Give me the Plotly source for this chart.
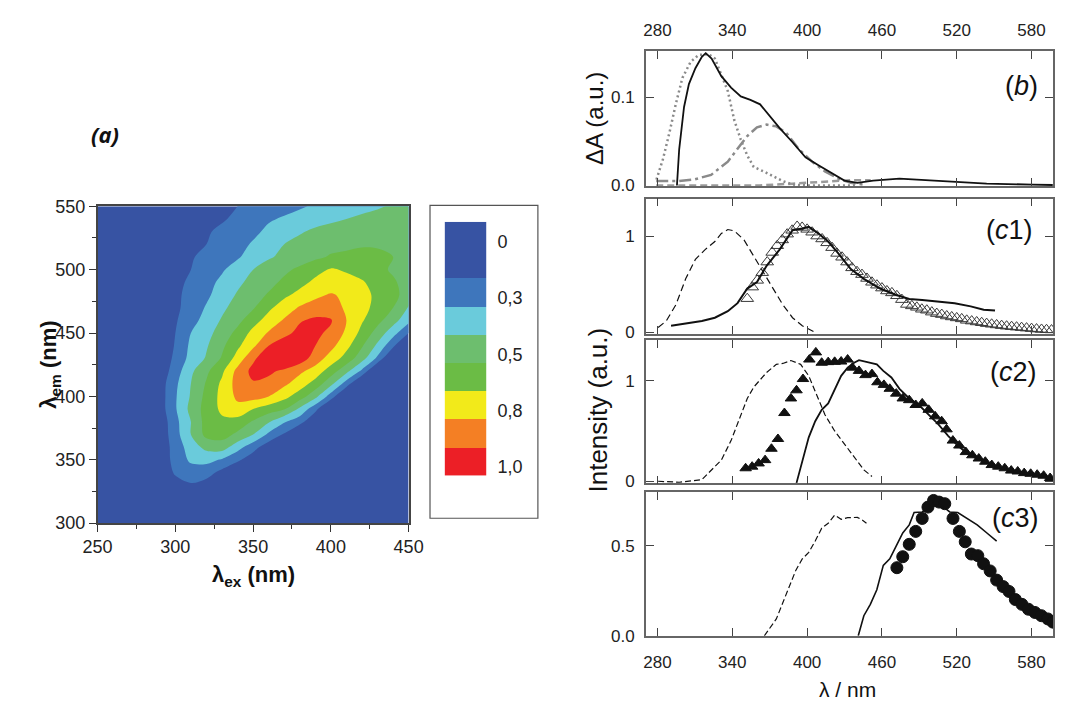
import plotly.graph_objects as go

W, H = 1068, 709

# ---------------- (a) excitation-emission map ----------------
EX = [250, 260, 270, 280, 290, 300, 310, 320, 330, 340, 350,
      360, 370, 380, 390, 400, 410, 420, 430, 440, 450]
EM = [550, 540, 530, 520, 510, 500, 490, 480, 470, 460, 450, 440, 430,
      420, 410, 400, 390, 380, 370, 360, 350, 340, 330, 320, 310, 300]
# normalised intensity, one row per emission wavelength (top row = 550 nm)
INTENSITY = [
    [0.02, 0.02, 0.04, 0.06, 0.08, 0.11, 0.13, 0.15, 0.18, 0.20, 0.22, 0.25, 0.27, 0.29, 0.31, 0.33, 0.35, 0.37, 0.39, 0.41, 0.43],
    [0.02, 0.02, 0.02, 0.04, 0.07, 0.10, 0.13, 0.16, 0.19, 0.22, 0.26, 0.29, 0.31, 0.33, 0.36, 0.38, 0.40, 0.42, 0.43, 0.44, 0.44],
    [0.02, 0.02, 0.04, 0.07, 0.10, 0.13, 0.16, 0.19, 0.22, 0.25, 0.28, 0.32, 0.35, 0.39, 0.42, 0.44, 0.45, 0.46, 0.47, 0.47, 0.46],
    [0.02, 0.02, 0.03, 0.07, 0.10, 0.14, 0.17, 0.20, 0.24, 0.27, 0.31, 0.35, 0.40, 0.43, 0.45, 0.47, 0.48, 0.49, 0.49, 0.48, 0.47],
    [0.02, 0.03, 0.06, 0.09, 0.13, 0.16, 0.19, 0.23, 0.26, 0.29, 0.34, 0.39, 0.42, 0.45, 0.48, 0.51, 0.52, 0.53, 0.52, 0.50, 0.48],
    [0.02, 0.02, 0.04, 0.08, 0.12, 0.16, 0.20, 0.25, 0.29, 0.34, 0.40, 0.44, 0.48, 0.52, 0.57, 0.61, 0.59, 0.56, 0.52, 0.49, 0.46],
    [0.02, 0.02, 0.03, 0.08, 0.12, 0.17, 0.22, 0.27, 0.32, 0.38, 0.43, 0.47, 0.52, 0.57, 0.62, 0.64, 0.63, 0.61, 0.56, 0.51, 0.47],
    [0.02, 0.02, 0.02, 0.07, 0.13, 0.18, 0.23, 0.28, 0.35, 0.41, 0.46, 0.51, 0.58, 0.63, 0.68, 0.71, 0.68, 0.63, 0.58, 0.52, 0.47],
    [0.02, 0.02, 0.02, 0.06, 0.12, 0.18, 0.24, 0.31, 0.38, 0.44, 0.49, 0.58, 0.65, 0.71, 0.74, 0.73, 0.69, 0.63, 0.57, 0.50, 0.39],
    [0.02, 0.02, 0.02, 0.05, 0.12, 0.19, 0.26, 0.34, 0.41, 0.47, 0.56, 0.64, 0.71, 0.79, 0.82, 0.81, 0.70, 0.61, 0.53, 0.44, 0.33],
    [0.02, 0.02, 0.02, 0.02, 0.10, 0.20, 0.30, 0.37, 0.44, 0.53, 0.63, 0.71, 0.77, 0.83, 0.82, 0.78, 0.68, 0.57, 0.46, 0.34, 0.20],
    [0.02, 0.02, 0.02, 0.02, 0.10, 0.21, 0.32, 0.39, 0.48, 0.58, 0.68, 0.80, 0.86, 0.88, 0.80, 0.73, 0.63, 0.51, 0.38, 0.22, 0.05],
    [0.02, 0.02, 0.02, 0.02, 0.10, 0.23, 0.33, 0.41, 0.51, 0.64, 0.78, 0.87, 0.92, 0.86, 0.75, 0.66, 0.56, 0.44, 0.28, 0.05, 0.02],
    [0.02, 0.02, 0.02, 0.02, 0.13, 0.25, 0.38, 0.48, 0.58, 0.73, 0.83, 0.82, 0.78, 0.72, 0.66, 0.55, 0.43, 0.28, 0.05, 0.02, 0.02],
    [0.02, 0.02, 0.02, 0.03, 0.15, 0.28, 0.40, 0.51, 0.62, 0.74, 0.79, 0.77, 0.72, 0.65, 0.56, 0.43, 0.25, 0.05, 0.02, 0.02, 0.02],
    [0.02, 0.02, 0.02, 0.03, 0.15, 0.29, 0.41, 0.53, 0.63, 0.72, 0.74, 0.70, 0.63, 0.55, 0.43, 0.25, 0.05, 0.02, 0.02, 0.02, 0.02],
    [0.02, 0.02, 0.02, 0.03, 0.15, 0.29, 0.43, 0.54, 0.62, 0.67, 0.60, 0.55, 0.51, 0.38, 0.23, 0.05, 0.02, 0.02, 0.02, 0.02, 0.02],
    [0.02, 0.02, 0.02, 0.03, 0.13, 0.27, 0.40, 0.54, 0.58, 0.56, 0.49, 0.41, 0.31, 0.24, 0.10, 0.02, 0.02, 0.02, 0.02, 0.02, 0.02],
    [0.02, 0.02, 0.02, 0.03, 0.13, 0.26, 0.40, 0.53, 0.54, 0.48, 0.40, 0.28, 0.19, 0.05, 0.02, 0.02, 0.02, 0.02, 0.02, 0.02, 0.02],
    [0.02, 0.02, 0.02, 0.03, 0.13, 0.24, 0.35, 0.43, 0.45, 0.34, 0.24, 0.14, 0.05, 0.02, 0.02, 0.02, 0.02, 0.02, 0.02, 0.02, 0.02],
    [0.02, 0.02, 0.02, 0.04, 0.14, 0.23, 0.32, 0.33, 0.29, 0.22, 0.14, 0.06, 0.02, 0.02, 0.02, 0.02, 0.02, 0.02, 0.02, 0.02, 0.02],
    [0.02, 0.02, 0.02, 0.04, 0.14, 0.21, 0.25, 0.24, 0.17, 0.10, 0.04, 0.02, 0.02, 0.02, 0.02, 0.02, 0.02, 0.02, 0.02, 0.02, 0.02],
    [0.02, 0.02, 0.02, 0.03, 0.10, 0.17, 0.19, 0.16, 0.11, 0.06, 0.03, 0.02, 0.02, 0.02, 0.02, 0.02, 0.02, 0.02, 0.02, 0.02, 0.02],
    [0.02, 0.02, 0.02, 0.02, 0.06, 0.11, 0.12, 0.10, 0.07, 0.04, 0.02, 0.02, 0.02, 0.02, 0.02, 0.02, 0.02, 0.02, 0.02, 0.02, 0.02],
    [0.02, 0.02, 0.02, 0.02, 0.03, 0.05, 0.06, 0.05, 0.04, 0.02, 0.02, 0.02, 0.02, 0.02, 0.02, 0.02, 0.02, 0.02, 0.02, 0.02, 0.02],
    [0.02, 0.02, 0.02, 0.02, 0.02, 0.02, 0.02, 0.02, 0.02, 0.02, 0.02, 0.02, 0.02, 0.02, 0.02, 0.02, 0.02, 0.02, 0.02, 0.02, 0.02],
]
BAND_COLORS = ["#3753a3", "#3e76bc", "#6acbdb", "#6dbe6e", "#6bbc45",
               "#f2ea1a", "#f47f24", "#ec1f26"]
# key: the lowest band spans two cells
KEY_BANDS = [0, 0, 1, 2, 3, 4, 5, 6, 7]
KEY_TICKS = ["0", "0,3", "0,5", "0,8", "1,0"]

# ---------------- (b) transient absorption ----------------
B_SUM_X = [295.6, 297.4, 301.3, 305.2, 310.4, 315.6, 318.7, 323.4, 331.2, 339.0, 346.8, 354.5, 362.3, 370.1,
           378.0, 388.3, 398.7, 409.1, 419.5, 429.9, 440.3, 453.0, 474.0, 492.2, 518.0, 544.0, 580.6, 597.0]
B_SUM_Y = [0.0, 0.041, 0.089, 0.115, 0.133, 0.146, 0.150, 0.144, 0.124, 0.111, 0.101, 0.097, 0.092, 0.078,
           0.065, 0.049, 0.032, 0.023, 0.014, 0.0055, 0.003, 0.0055, 0.0077, 0.006, 0.004, 0.002, 0.001, 0.0005]
B_G1_X = [279.2, 284.4, 289.6, 294.8, 300.0, 306.5, 313.0, 320.8, 326.0, 331.2, 336.4, 341.6, 346.8, 352.0,
          357.2, 365.0, 372.8, 380.5, 388.3, 400.0, 420.0, 440.0]
B_G1_Y = [0.0066, 0.030, 0.060, 0.093, 0.122, 0.140, 0.148, 0.149, 0.144, 0.126, 0.107, 0.074, 0.052, 0.034,
          0.021, 0.016, 0.010, 0.005, 0.001, 0.0, 0.0, 0.0]
B_G2_X = [279.0, 297.0, 310.0, 323.0, 336.4, 344.2, 352.0, 359.8, 367.5, 375.3, 383.1, 393.5, 403.9, 414.3,
          424.7, 435.0, 445.4]
B_G2_Y = [0.005, 0.005, 0.007, 0.012, 0.027, 0.041, 0.056, 0.066, 0.069, 0.067, 0.060, 0.041, 0.027, 0.016,
          0.008, 0.003, 0.001]
B_G3_X = [279.0, 330.0, 362.0, 388.0, 414.0, 435.0, 451.0]
B_G3_Y = [0.0, 0.0, 0.0, 0.002, 0.004, 0.006, 0.006]

# ---------------- (c1) ----------------
C1_EXC_X = [280.5, 287.0, 294.8, 302.6, 310.4, 318.2, 326.0, 331.2, 336.4, 341.6, 349.4, 357.2, 365.0, 372.8,
            380.5, 388.3, 396.1, 406.5]
C1_EXC_Y = [0.05, 0.118, 0.287, 0.556, 0.758, 0.859, 0.943, 1.027, 1.068, 1.054, 0.96, 0.79, 0.623, 0.455,
            0.287, 0.152, 0.068, 0.0]
C1_EM_X = [290.9, 302.6, 315.6, 326.0, 336.4, 344.2, 352.0, 359.8, 367.5, 377.9, 388.3, 396.1, 401.3, 409.1,
           416.9, 424.7, 435.0, 445.5, 458.5, 471.5, 481.9, 492.3, 505.3, 518.3, 531.2, 541.6, 550.7]
C1_EM_Y = [0.068, 0.091, 0.118, 0.152, 0.219, 0.303, 0.455, 0.522, 0.691, 0.859, 1.061, 1.078, 1.095, 1.027,
           0.943, 0.825, 0.657, 0.556, 0.455, 0.388, 0.347, 0.337, 0.32, 0.303, 0.27, 0.236, 0.226]
C1_PTS_X = [352, 356, 360, 364, 368, 372, 376, 380, 384, 388, 392, 396, 400, 404, 408, 412, 416, 420, 424, 428,
            432, 436, 440, 444, 448, 452, 456, 460, 464, 468, 472, 476, 480, 484, 488, 492, 496, 500, 504, 508,
            512, 516, 520, 524, 528, 532, 536, 540, 544, 548, 552, 556, 560, 564, 568, 572, 576, 580, 584, 588,
            592, 596]
C1_PTS_Y = [0.35, 0.47, 0.54, 0.62, 0.73, 0.83, 0.90, 0.96, 1.02, 1.06, 1.10, 1.09, 1.07, 1.04, 1.00, 0.97,
            0.93, 0.88, 0.82, 0.78, 0.73, 0.67, 0.63, 0.60, 0.56, 0.52, 0.49, 0.46, 0.43, 0.41, 0.38, 0.34,
            0.29, 0.275, 0.26, 0.24, 0.23, 0.21, 0.195, 0.185, 0.17, 0.16, 0.15, 0.14, 0.125, 0.117, 0.108,
            0.10, 0.091, 0.084, 0.077, 0.07, 0.064, 0.059, 0.054, 0.049, 0.044, 0.039, 0.034, 0.03, 0.027, 0.024]

# ---------------- (c2) ----------------
C2_EXC_X = [280.5, 297.4, 315.6, 323.4, 331.2, 339.0, 346.8, 352.0, 357.2, 367.5, 375.3, 380.5, 387.0, 394.8,
            401.3, 409.1, 414.3, 422.1, 429.9, 437.7, 445.5, 452.0]
C2_EXC_Y = [0.0, -0.01, 0.016, 0.113, 0.21, 0.404, 0.661, 0.823, 0.936, 1.081, 1.162, 1.171, 1.2, 1.162,
            1.048, 0.823, 0.661, 0.5, 0.371, 0.242, 0.113, 0.048]
C2_EM_X = [391.5, 396.1, 401.3, 406.5, 411.7, 416.9, 422.1, 427.3, 432.5, 437.7, 441.6, 448.1, 455.9, 461.1,
           467.6, 474.1, 481.9, 489.7, 497.5, 505.3, 513.1, 520.8, 528.6, 539.0, 549.4, 559.8, 570.2, 580.6,
           591.0, 597.2]
C2_EM_Y = [-0.016, 0.21, 0.436, 0.597, 0.71, 0.774, 0.919, 1.048, 1.129, 1.178, 1.203, 1.187, 1.162, 1.097,
           1.032, 0.919, 0.823, 0.758, 0.661, 0.565, 0.452, 0.355, 0.274, 0.21, 0.161, 0.119, 0.087, 0.065,
           0.042, 0.023]
C2_PTS_X = [350.7, 355.9, 361.1, 366.3, 371.4, 376.6, 381.8, 387.0, 391.5, 396.7, 401.8, 407.0, 411.7, 416.9,
            422.1, 427.3, 432.5, 436.4, 441.6, 446.8, 452.0, 456.4, 461.6, 466.3, 471.5, 476.7, 481.9, 487.1,
            492.3, 497.5, 502.7, 507.9, 511.8, 516.9, 522.1, 527.3, 532.5, 537.7, 542.9, 548.1, 553.3, 558.5,
            563.7, 568.9, 574.1, 579.3, 584.5, 589.7, 594.9]
C2_PTS_Y = [0.129, 0.145, 0.177, 0.21, 0.323, 0.42, 0.678, 0.823, 0.904, 1.016, 1.21, 1.281, 1.178, 1.184,
            1.187, 1.19, 1.21, 1.129, 1.097, 1.055, 1.065, 0.984, 0.958, 0.919, 0.871, 0.823, 0.806, 0.758,
            0.774, 0.71, 0.645, 0.597, 0.516, 0.404, 0.355, 0.29, 0.258, 0.226, 0.194, 0.161, 0.145, 0.129,
            0.106, 0.097, 0.081, 0.074, 0.065, 0.055, 0.032]

# ---------------- (c3) ----------------
C3_EXC_X = [365.7, 370.1, 375.3, 380.5, 385.7, 390.9, 396.1, 401.3, 406.5, 411.7, 416.9, 422.1, 427.3, 432.5,
            440.3, 444.2, 447.6]
C3_EXC_Y = [0.0, 0.04, 0.094, 0.184, 0.274, 0.364, 0.428, 0.464, 0.527, 0.599, 0.626, 0.671, 0.648, 0.657,
            0.659, 0.644, 0.626]
C3_EM_X = [441.0, 445.5, 450.7, 455.9, 461.1, 466.3, 471.5, 476.7, 481.9, 485.8, 492.3, 500.1, 507.9, 514.4,
           520.8, 528.6, 536.4, 544.2, 552.0]
C3_EM_Y = [0.0, 0.112, 0.175, 0.256, 0.392, 0.428, 0.5, 0.572, 0.617, 0.686, 0.689, 0.725, 0.725, 0.689,
           0.686, 0.653, 0.617, 0.572, 0.527]
C3_PTS_X = [472.0, 476.7, 481.9, 487.1, 492.3, 496.9, 501.4, 505.8, 510.4, 517.0, 522.1, 526.8, 531.7, 536.9,
            541.5, 546.8, 552.0, 557.2, 561.9, 567.0, 572.3, 577.5, 582.7, 587.9, 593.1, 597.2]
C3_PTS_Y = [0.379, 0.44, 0.509, 0.581, 0.653, 0.716, 0.753, 0.744, 0.735, 0.653, 0.581, 0.523, 0.455, 0.446,
            0.401, 0.361, 0.31, 0.274, 0.247, 0.202, 0.175, 0.148, 0.13, 0.112, 0.094, 0.076]

LAMBDA_TICKS = [280, 340, 400, 460, 520, 580]


def fx(p):
    return p / W


def fy(p):
    return 1 - p / H


FONT = "Liberation Sans, Arial, sans-serif"
band_scale = [[i / 7, c] for i, c in enumerate(BAND_COLORS)]

fig = go.Figure()

# contour map
fig.add_trace(go.Contour(
    x=EX, y=EM[::-1], z=INTENSITY[::-1],
    contours=dict(start=0.2, end=0.8, size=0.1, coloring="fill", showlines=False),
    colorscale=band_scale, line_width=0, showscale=False, hoverinfo="skip",
    xaxis="x", yaxis="y",
))

# colour key
fig.add_trace(go.Heatmap(
    z=[[b] for b in KEY_BANDS], y=list(range(len(KEY_BANDS))), x=[0],
    colorscale=band_scale, zmin=0, zmax=7, showscale=False, hoverinfo="skip",
    xaxis="x2", yaxis="y2",
))

BLACK = "#111111"
GREY = "#8a8a8a"


def line(x, y, ax, color=BLACK, width=2.0, dash="solid"):
    fig.add_trace(go.Scatter(x=x, y=y, mode="lines", xaxis="x" + ax, yaxis="y" + ax,
                             line=dict(color=color, width=width, dash=dash),
                             showlegend=False, hoverinfo="skip"))


def points(x, y, ax, symbol, size, color=BLACK):
    fig.add_trace(go.Scatter(x=x, y=y, mode="markers", xaxis="x" + ax, yaxis="y" + ax,
                             marker=dict(symbol=symbol, size=size, color=color,
                                         line=dict(color=color, width=1)),
                             showlegend=False, hoverinfo="skip"))


# (b)
line(B_G3_X, B_G3_Y, "3", color="#9a9a9a", width=2.5, dash="7px,4px")
line(B_G1_X, B_G1_Y, "3", color=GREY, width=2.5, dash="2px,3px")
line(B_G2_X, B_G2_Y, "3", color=GREY, width=2.5, dash="12px,4px,3px,4px")
line(B_SUM_X, B_SUM_Y, "3", width=1.8)
# (c1)
line(C1_EXC_X, C1_EXC_Y, "4", width=1.2, dash="7px,4px")
points(C1_PTS_X, C1_PTS_Y, "4", "triangle-up-open", 11, color="#3a3a3a")
line(C1_EM_X, C1_EM_Y, "4", width=2.0)
# (c2)
line(C2_EXC_X, C2_EXC_Y, "5", width=1.2, dash="6px,3px")
points(C2_PTS_X, C2_PTS_Y, "5", "triangle-up", 10)
line(C2_EM_X, C2_EM_Y, "5", width=1.8)
# (c3)
line(C3_EXC_X, C3_EXC_Y, "6", width=1.2, dash="6px,3px")
points(C3_PTS_X, C3_PTS_Y, "6", "circle", 12)
line(C3_EM_X, C3_EM_Y, "6", width=1.6)

tick_font = dict(family=FONT, size=18, color="#222222")
small_font = dict(family=FONT, size=17, color="#222222")

layout = dict(
    width=W, height=H, margin=dict(l=0, r=0, t=0, b=0),
    paper_bgcolor="white", plot_bgcolor="white", showlegend=False,
    xaxis=dict(domain=[fx(85), fx(405)], range=[250, 450], tickvals=[250, 300, 350, 400, 450],
               ticks="outside", ticklen=7, tickcolor="#333", tickwidth=1.2,
               minor=dict(tickvals=[275, 325, 375, 425], ticks="outside", ticklen=4, tickcolor="#333"),
               showline=True, linecolor="#444", linewidth=1.5, mirror=True,
               showgrid=False, zeroline=False, tickfont=tick_font, anchor="y"),
    yaxis=dict(domain=[fy(528), fy(202)], range=[300, 550], tickvals=[300, 350, 400, 450, 500, 550],
               ticks="outside", ticklen=7, tickcolor="#333", tickwidth=1.2,
               minor=dict(tickvals=[325, 375, 425, 475, 525], ticks="outside", ticklen=4, tickcolor="#333"),
               showline=True, linecolor="#444", linewidth=1.5, mirror=True,
               showgrid=False, zeroline=False, tickfont=tick_font, anchor="x"),
    xaxis2=dict(domain=[fx(442), fx(485)], range=[-0.5, 0.5], visible=False, anchor="y2"),
    yaxis2=dict(domain=[fy(479), fy(218)], range=[8.5, -0.5], side="right",
                tickvals=[0.2, 2.2, 4.2, 6.2, 8.2], ticktext=KEY_TICKS, ticks="",
                showgrid=False, zeroline=False, showline=False, tickfont=tick_font,
                ticklabelstandoff=10, anchor="x2"),
)

panels = {
    "3": (42, 181, [-0.0005, 0.1527], [0, 0.1], ["0.0", "0.1"]),
    "4": (194, 333, [-0.013, 1.39], [0, 1], ["0", "1"]),
    "5": (340, 487, [-0.02, 1.40], [0, 1], ["0", "1"]),
    "6": (496, 644, [0, 0.80], [0, 0.5], ["0.0", "0.5"]),
}
for ax, (top, bottom, yr, yt, ytt) in panels.items():
    layout["xaxis" + ax] = dict(
        domain=[fx(649), 1.0], range=[270.6, 597.2], tickvals=LAMBDA_TICKS,
        ticks="inside", ticklen=8, tickcolor="#444", tickwidth=1.2,
        showline=True, linecolor="#666", linewidth=1.5, mirror="ticks",
        showgrid=False, zeroline=False, tickfont=small_font, anchor="y" + ax,
        showticklabels=ax in ("3", "6"), side="top" if ax == "3" else "bottom",
        ticklabelstandoff=6 if ax == "3" else 10,
    )
    layout["yaxis" + ax] = dict(
        domain=[fy(bottom), fy(top)], range=yr, tickvals=yt, ticktext=ytt,
        ticks="inside", ticklen=8, tickcolor="#444", tickwidth=1.2,
        showline=True, linecolor="#666", linewidth=1.5, mirror="ticks",
        showgrid=False, zeroline=False, tickfont=small_font, anchor="x" + ax,
        ticklabelstandoff=6,
    )

fig.update_layout(**layout)

# frame around the colour key
fig.add_shape(type="rect", xref="paper", yref="paper",
              x0=fx(427), x1=fx(538), y0=fy(523), y1=fy(201),
              line=dict(color="#555", width=1.2), fillcolor="rgba(0,0,0,0)")


def note(text, x, y, size, angle=0, family=FONT, color="#111"):
    fig.add_annotation(text=text, x=fx(x), y=fy(y), xref="paper", yref="paper",
                       showarrow=False, textangle=angle, xanchor="center", yanchor="middle",
                       font=dict(family=family, size=size, color=color))


note("<b><i>(a)</i></b>", 93, 128, 22, family="Open Sans, sans-serif")
note("<b>λ<sub>em</sub> (nm)</b>", 36, 365, 22, angle=-90)
note("<b>λ<sub>ex</sub> (nm)</b>", 245, 582, 22)
note("ΔA (a.u.)", 597, 112, 24, angle=-90)
note("Intensity (a.u.)", 600, 412, 26, angle=-90)
note("λ / nm", 857, 699, 21)
note("(<i>b</i>)", 1036, 78, 27)
note("(<i>c</i>1)", 1023, 226, 27)
note("(<i>c</i>2)", 1027, 373, 27)
note("(<i>c</i>3)", 1029, 523, 27)

fig.write_html("out.html")
